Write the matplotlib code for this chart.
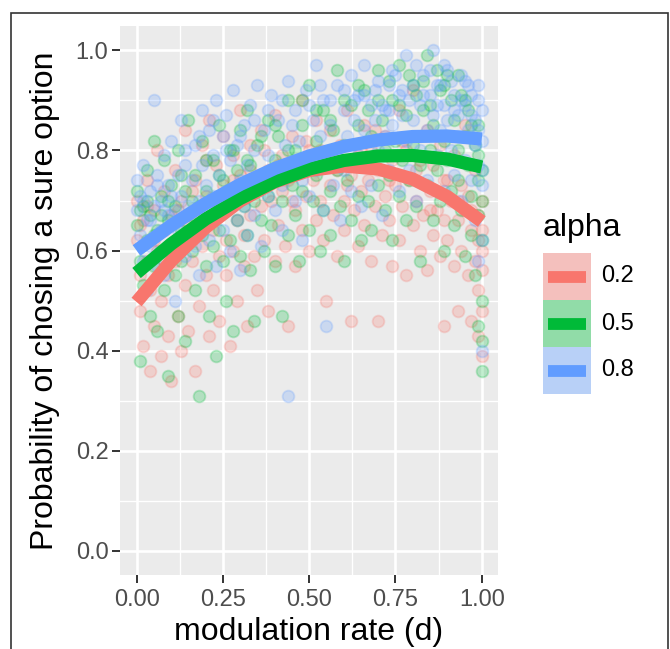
import numpy as np
import matplotlib.pyplot as plt
from matplotlib.patches import Rectangle
from matplotlib.lines import Line2D

plt.rcParams['font.family'] = ['Liberation Sans', 'DejaVu Sans']

# group labels and ggplot default hues
alpha_levels = ['0.2', '0.5', '0.8']
colors = ['#F8766D', '#00BA38', '#619CFF']
key_fills = ['#F4C0BD', '#91DCA8', '#B8D0F7']

# fitted curves
curve_x = [0.0, 0.1, 0.2, 0.3, 0.4, 0.5, 0.6, 0.7, 0.8, 0.9, 1.0]
curve_red = [0.497, 0.579, 0.646, 0.699, 0.737, 0.760, 0.769, 0.763, 0.743, 0.708, 0.658]
curve_green = [0.555, 0.613, 0.663, 0.704, 0.738, 0.763, 0.780, 0.789, 0.790, 0.783, 0.767]
curve_blue = [0.600, 0.650, 0.694, 0.732, 0.764, 0.789, 0.808, 0.821, 0.828, 0.829, 0.823]

# raw points (estimated from the cloud)
pts_red = [
    (0.00,0.62),(0.00,0.70),(0.01,0.55),(0.01,0.48),(0.02,0.66),(0.02,0.41),(0.03,0.58),(0.03,0.74),
    (0.04,0.52),(0.04,0.36),(0.05,0.68),(0.05,0.45),(0.06,0.60),(0.06,0.80),(0.07,0.50),(0.07,0.39),
    (0.08,0.64),(0.08,0.72),(0.09,0.55),(0.09,0.43),(0.10,0.67),(0.10,0.34),(0.11,0.58),(0.11,0.76),
    (0.12,0.47),(0.12,0.62),(0.13,0.40),(0.13,0.70),(0.14,0.53),(0.14,0.84),(0.15,0.65),(0.15,0.44),
    (0.16,0.58),(0.17,0.74),(0.17,0.36),(0.18,0.67),(0.18,0.49),(0.19,0.81),(0.19,0.61),(0.20,0.55),
    (0.20,0.71),(0.21,0.43),(0.21,0.86),(0.22,0.64),(0.22,0.52),(0.23,0.77),(0.23,0.68),(0.24,0.59),
    (0.24,0.46),(0.25,0.73),(0.25,0.83),(0.26,0.62),(0.26,0.55),(0.27,0.69),(0.27,0.41),(0.28,0.79),
    (0.28,0.60),(0.29,0.66),(0.29,0.50),(0.30,0.75),(0.30,0.88),(0.31,0.63),(0.31,0.57),(0.32,0.71),
    (0.32,0.45),(0.33,0.81),(0.33,0.67),(0.34,0.59),(0.34,0.74),(0.35,0.52),(0.36,0.69),(0.36,0.84),
    (0.37,0.62),(0.38,0.76),(0.38,0.48),(0.39,0.70),(0.40,0.58),(0.40,0.87),(0.41,0.65),(0.42,0.79),
    (0.42,0.72),(0.43,0.61),(0.44,0.74),(0.44,0.45),(0.45,0.83),(0.46,0.68),(0.46,0.57),(0.47,0.77),
    (0.48,0.64),(0.48,0.90),(0.49,0.71),(0.50,0.60),(0.50,0.80),(0.51,0.74),(0.52,0.66),(0.52,0.86),
    (0.53,0.70),(0.54,0.62),(0.54,0.78),(0.55,0.50),(0.56,0.73),(0.56,0.84),(0.57,0.67),(0.58,0.76),
    (0.58,0.59),(0.59,0.81),(0.60,0.70),(0.60,0.64),(0.61,0.88),(0.62,0.75),(0.62,0.46),(0.63,0.68),
    (0.64,0.79),(0.64,0.61),(0.65,0.72),(0.66,0.85),(0.66,0.65),(0.67,0.74),(0.68,0.58),(0.68,0.80),
    (0.69,0.69),(0.70,0.46),(0.70,0.76),(0.71,0.63),(0.72,0.83),(0.72,0.71),(0.73,0.66),(0.74,0.78),
    (0.74,0.57),(0.75,0.73),(0.76,0.88),(0.76,0.62),(0.77,0.69),(0.78,0.80),(0.78,0.55),(0.79,0.74),
    (0.80,0.65),(0.80,0.92),(0.81,0.70),(0.82,0.60),(0.82,0.78),(0.83,0.67),(0.84,0.84),(0.84,0.56),
    (0.85,0.72),(0.86,0.63),(0.86,0.77),(0.87,0.68),(0.88,0.59),(0.88,0.81),(0.89,0.45),(0.89,0.66),
    (0.90,0.74),(0.90,0.62),(0.91,0.70),(0.92,0.57),(0.92,0.79),(0.93,0.66),(0.93,0.48),(0.94,0.73),
    (0.94,0.60),(0.95,0.68),(0.95,0.85),(0.96,0.55),(0.96,0.71),(0.97,0.64),(0.97,0.46),(0.98,0.76),
    (0.98,0.58),(0.99,0.67),(0.99,0.52),(0.99,0.62),(0.99,0.43),(1.00,0.70),(1.00,0.56),(1.00,0.39),
    (1.00,0.64),(1.00,0.48),(1.00,0.60),
    (0.01,0.65),(0.03,0.69),(0.05,0.62),(0.08,0.58),(0.12,0.68),(0.16,0.72),(0.20,0.78),(0.24,0.70),
    (0.28,0.74),(0.33,0.76),(0.37,0.80),(0.41,0.77),(0.45,0.70),(0.49,0.82),(0.53,0.80),(0.57,0.78),
    (0.61,0.73),(0.65,0.80),(0.69,0.84),(0.73,0.74),(0.77,0.82),(0.81,0.76),(0.85,0.68),(0.89,0.74),
    (0.93,0.70),(0.97,0.68),
]
pts_green = [
    (0.00,0.65),(0.00,0.72),(0.01,0.58),(0.01,0.38),(0.02,0.69),(0.02,0.53),(0.03,0.76),(0.03,0.62),
    (0.04,0.47),(0.04,0.67),(0.05,0.57),(0.05,0.82),(0.06,0.64),(0.06,0.44),(0.07,0.71),(0.07,0.60),
    (0.08,0.52),(0.08,0.78),(0.09,0.66),(0.09,0.35),(0.10,0.61),(0.10,0.73),(0.11,0.55),(0.11,0.69),
    (0.12,0.47),(0.12,0.80),(0.13,0.64),(0.13,0.58),(0.14,0.72),(0.14,0.42),(0.15,0.67),(0.15,0.86),
    (0.16,0.60),(0.17,0.75),(0.17,0.52),(0.18,0.69),(0.18,0.31),(0.19,0.63),(0.19,0.82),(0.20,0.57),
    (0.20,0.72),(0.21,0.66),(0.21,0.47),(0.22,0.78),(0.22,0.61),(0.23,0.70),(0.23,0.39),(0.24,0.85),
    (0.24,0.64),(0.25,0.58),(0.25,0.74),(0.26,0.68),(0.26,0.50),(0.27,0.80),(0.27,0.62),(0.28,0.71),
    (0.28,0.44),(0.29,0.76),(0.29,0.66),(0.30,0.59),(0.30,0.84),(0.31,0.69),(0.31,0.73),(0.32,0.63),
    (0.32,0.88),(0.33,0.56),(0.33,0.77),(0.34,0.70),(0.34,0.46),(0.35,0.81),(0.36,0.66),(0.36,0.74),
    (0.37,0.60),(0.38,0.86),(0.38,0.71),(0.39,0.65),(0.40,0.78),(0.40,0.57),(0.41,0.83),(0.42,0.70),
    (0.42,0.47),(0.43,0.76),(0.44,0.63),(0.44,0.90),(0.45,0.73),(0.46,0.80),(0.46,0.67),(0.47,0.58),
    (0.48,0.85),(0.48,0.72),(0.49,0.77),(0.50,0.64),(0.50,0.93),(0.51,0.70),(0.52,0.82),(0.52,0.75),
    (0.53,0.60),(0.54,0.88),(0.54,0.68),(0.55,0.79),(0.56,0.72),(0.56,0.63),(0.57,0.84),(0.58,0.76),
    (0.58,0.96),(0.59,0.69),(0.60,0.81),(0.60,0.58),(0.61,0.74),(0.62,0.89),(0.62,0.66),(0.63,0.78),
    (0.64,0.71),(0.64,0.85),(0.65,0.62),(0.66,0.77),(0.66,0.92),(0.67,0.70),(0.68,0.83),(0.68,0.64),
    (0.69,0.79),(0.70,0.73),(0.70,0.96),(0.71,0.86),(0.72,0.68),(0.72,0.80),(0.73,0.75),(0.74,0.90),
    (0.74,0.62),(0.75,0.82),(0.76,0.71),(0.76,0.97),(0.77,0.78),(0.78,0.87),(0.78,0.66),(0.79,0.74),
    (0.80,0.93),(0.80,0.81),(0.81,0.69),(0.82,0.77),(0.82,0.58),(0.83,0.88),(0.84,0.73),(0.84,0.99),
    (0.85,0.80),(0.86,0.66),(0.86,0.85),(0.87,0.76),(0.88,0.92),(0.88,0.70),(0.89,0.82),(0.89,0.60),
    (0.90,0.78),(0.90,0.95),(0.91,0.72),(0.92,0.86),(0.92,0.65),(0.93,0.80),(0.93,0.74),(0.94,0.91),
    (0.94,0.68),(0.95,0.83),(0.95,0.59),(0.96,0.77),(0.96,0.88),(0.97,0.71),(0.97,0.63),(0.98,0.81),
    (0.98,0.55),(0.99,0.74),(0.99,0.67),(0.99,0.45),(0.99,0.85),(1.00,0.76),(1.00,0.62),(1.00,0.50),
    (1.00,0.36),(1.00,0.70),(1.00,0.42),
    (0.01,0.68),(0.03,0.70),(0.05,0.63),(0.07,0.67),(0.09,0.70),(0.13,0.75),(0.16,0.70),(0.20,0.78),
    (0.24,0.75),(0.28,0.80),(0.32,0.78),(0.36,0.83),(0.40,0.85),(0.44,0.80),(0.48,0.90),(0.52,0.88),
    (0.56,0.86),(0.60,0.90),(0.64,0.93),(0.67,0.88),(0.70,0.90),(0.73,0.94),(0.76,0.89),(0.79,0.95),
    (0.81,0.91),(0.83,0.94),(0.85,0.89),(0.87,0.96),(0.89,0.93),(0.91,0.90),(0.93,0.95),(0.95,0.90),
    (0.97,0.85),(0.99,0.79),
]
pts_blue = [
    (0.00,0.68),(0.00,0.74),(0.01,0.63),(0.01,0.71),(0.02,0.58),(0.02,0.77),(0.03,0.66),(0.03,0.52),
    (0.04,0.72),(0.04,0.61),(0.05,0.69),(0.05,0.90),(0.06,0.57),(0.06,0.75),(0.07,0.64),(0.07,0.70),
    (0.08,0.79),(0.08,0.55),(0.09,0.67),(0.09,0.73),(0.10,0.60),(0.10,0.82),(0.11,0.68),(0.11,0.50),
    (0.12,0.75),(0.12,0.64),(0.13,0.71),(0.13,0.86),(0.14,0.59),(0.14,0.77),(0.15,0.69),(0.15,0.63),
    (0.16,0.74),(0.17,0.81),(0.17,0.61),(0.18,0.70),(0.18,0.55),(0.19,0.77),(0.19,0.88),(0.20,0.66),
    (0.20,0.73),(0.21,0.84),(0.21,0.62),(0.22,0.71),(0.22,0.79),(0.23,0.57),(0.23,0.90),(0.24,0.68),
    (0.24,0.75),(0.25,0.83),(0.25,0.64),(0.26,0.72),(0.26,0.87),(0.27,0.60),(0.27,0.78),(0.28,0.70),
    (0.28,0.92),(0.29,0.66),(0.29,0.81),(0.30,0.74),(0.30,0.56),(0.31,0.85),(0.31,0.69),(0.32,0.77),
    (0.32,0.63),(0.33,0.89),(0.33,0.72),(0.34,0.80),(0.34,0.67),(0.35,0.93),(0.36,0.75),(0.36,0.61),
    (0.37,0.84),(0.38,0.71),(0.38,0.79),(0.39,0.91),(0.40,0.68),(0.40,0.76),(0.41,0.86),(0.42,0.73),
    (0.42,0.64),(0.43,0.81),(0.44,0.31),(0.44,0.94),(0.45,0.77),(0.46,0.70),(0.46,0.88),(0.47,0.82),
    (0.48,0.74),(0.48,0.62),(0.49,0.92),(0.50,0.79),(0.50,0.71),(0.51,0.86),(0.52,0.76),(0.52,0.97),
    (0.53,0.83),(0.54,0.68),(0.54,0.90),(0.55,0.78),(0.55,0.45),(0.56,0.85),(0.57,0.73),(0.58,0.93),
    (0.58,0.80),(0.59,0.66),(0.60,0.88),(0.60,0.76),(0.61,0.83),(0.62,0.95),(0.62,0.72),(0.63,0.86),
    (0.64,0.79),(0.64,0.91),(0.65,0.69),(0.66,0.84),(0.66,0.97),(0.67,0.77),(0.68,0.89),(0.68,0.73),
    (0.69,0.86),(0.70,0.80),(0.70,0.94),(0.71,0.67),(0.72,0.88),(0.72,0.83),(0.73,0.76),(0.74,0.96),
    (0.74,0.85),(0.75,0.79),(0.76,0.91),(0.76,0.72),(0.77,0.87),(0.78,0.99),(0.78,0.82),(0.79,0.76),
    (0.80,0.93),(0.80,0.86),(0.81,0.70),(0.82,0.89),(0.82,0.80),(0.83,0.95),(0.84,0.84),(0.84,0.74),
    (0.85,0.91),(0.86,0.87),(0.86,1.00),(0.87,0.79),(0.88,0.93),(0.88,0.84),(0.89,0.72),(0.89,0.89),
    (0.90,0.86),(0.90,0.96),(0.91,0.80),(0.92,0.91),(0.92,0.75),(0.93,0.87),(0.93,0.83),(0.94,0.95),
    (0.94,0.70),(0.95,0.89),(0.95,0.78),(0.96,0.84),(0.96,0.93),(0.97,0.74),(0.97,0.87),(0.98,0.81),
    (0.98,0.66),(0.99,0.90),(0.99,0.77),(0.99,0.58),(0.99,0.84),(1.00,0.82),(1.00,0.73),(1.00,0.62),
    (1.00,0.88),(1.00,0.40),(1.00,0.76),
    (0.02,0.70),(0.04,0.66),(0.06,0.73),(0.08,0.68),(0.10,0.71),(0.14,0.80),(0.18,0.83),(0.22,0.86),
    (0.26,0.80),(0.30,0.83),(0.34,0.86),(0.38,0.88),(0.42,0.90),(0.45,0.85),(0.50,0.89),(0.53,0.93),
    (0.56,0.90),(0.60,0.92),(0.63,0.90),(0.66,0.91),(0.69,0.92),(0.71,0.89),(0.73,0.93),(0.75,0.95),
    (0.77,0.92),(0.79,0.90),(0.81,0.97),(0.83,0.91),(0.85,0.96),(0.87,0.93),(0.89,0.97),(0.91,0.94),
    (0.92,0.88),(0.94,0.90),(0.95,0.94),(0.97,0.91),(0.98,0.86),(0.99,0.93),(0.73,0.88),(0.87,0.89),
]

W, H = 670, 649
fig = plt.figure(figsize=(W / 100, H / 100), dpi=100)
fig.patch.set_facecolor('white')

def px(x, y):
    # pixel (from top-left) -> figure fraction
    return x / W, 1 - y / H

ax = fig.add_axes([120 / W, 1 - 575 / H, 378 / W, 549 / H])
ax.set_facecolor('#EBEBEB')
for s in ax.spines.values():
    s.set_visible(False)

ax.set_xlim(-0.048, 1.047)
ax.set_ylim(-0.049, 1.049)
ax.set_xticks([0, 0.25, 0.5, 0.75, 1.0])
ax.set_xticklabels(['0.00', '0.25', '0.50', '0.75', '1.00'])
ax.set_xticks([0.125, 0.375, 0.625, 0.875], minor=True)
ax.set_yticks([0, 0.2, 0.4, 0.6, 0.8, 1.0])
ax.set_yticklabels(['0.0', '0.2', '0.4', '0.6', '0.8', '1.0'])
ax.set_yticks([0.1, 0.3, 0.5, 0.7, 0.9], minor=True)
ax.grid(which='major', color='white', lw=1.9)
ax.grid(which='minor', color='white', lw=1.0)
ax.set_axisbelow(True)
ax.tick_params(which='major', length=5.8, width=1.4, color='#333333',
               labelsize=17, labelcolor='#4D4D4D')
ax.tick_params(axis='x', which='major', pad=4)
ax.tick_params(axis='y', which='major', pad=2.5)
ax.tick_params(which='minor', length=0)

for pts, c in zip([pts_red, pts_green, pts_blue], colors):
    arr = np.array(pts)
    ax.scatter(arr[:, 0], arr[:, 1], s=72, color=c, alpha=0.24, linewidths=1.3, zorder=2)

for ys, c in zip([curve_red, curve_green, curve_blue], colors):
    ax.plot(curve_x, ys, color=c, lw=9.5, solid_capstyle='butt', zorder=3)

ax.set_xlabel('modulation rate (d)', fontsize=23, color='black')
ax.set_ylabel('Probability of chosing a sure option', fontsize=23, color='black')
ax.xaxis.set_label_coords(0.5, (575 - 632) / 549)
ax.xaxis.label.set_va('center')
ax.yaxis.set_label_coords((45 - 120) / 378, 0.5)
ax.yaxis.label.set_va('center')

# legend drawn by hand to sit like ggplot's guide
fig.text(*px(543, 228), 'alpha', fontsize=23, va='center', ha='left')
for i, (lab, c, kf) in enumerate(zip(alpha_levels, colors, key_fills)):
    top = 253 + i * 47
    x0, y0 = px(543, top + 47)
    fig.add_artist(Rectangle((x0, y0), 48 / W, 47 / H, transform=fig.transFigure,
                             facecolor=kf, edgecolor='none'))
    lx0, ly = px(548, top + 23.5)
    lx1, _ = px(586, top + 23.5)
    fig.add_artist(Line2D([lx0, lx1], [ly, ly], transform=fig.transFigure,
                          color=c, lw=8.5, solid_capstyle='butt'))
    tx, ty = px(601, top + 23.5)
    fig.text(tx, ty, lab, fontsize=17, va='center', ha='left')

# outer frame (bottom edge falls outside the image)
bx, by = px(11, 700)
fig.add_artist(Rectangle((bx, by), 657 / W, 687 / H, transform=fig.transFigure,
                         facecolor='none', edgecolor='#333333', lw=1.2, clip_on=False))

fig.savefig('out.png', dpi=100)
